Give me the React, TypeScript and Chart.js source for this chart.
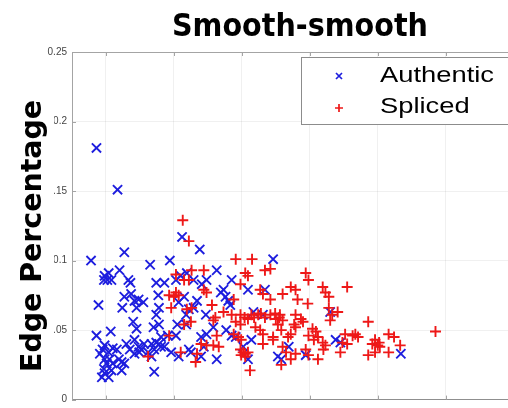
import React, { useEffect, useRef } from 'react';
import { Chart, registerables } from 'chart.js';

Chart.register(...registerables);

const chartTitle = 'Smooth-smooth';
const yAxisTitle = 'Edge Percentage';
const seriesNames = ['Authentic', 'Spliced'];
const yTickLabels = ['0', '0.05', '0.1', '0.15', '0.2', '0.25'];
const xTickValues = [0.5, 1.5, 2.5, 3.5, 4.5, 5.5, 6.5];

const authenticX = [
  0.36, 0.67, 0.28, 0.77, 1.15, 1.44, 0.48, 0.54, 0.47, 0.52, 0.58, 0.70, 0.83, 0.86, 1.24, 1.36,
  0.39, 0.74, 0.77, 0.87, 0.92, 0.98, 1.05, 0.95, 1.27, 1.28, 1.24, 0.90, 0.95, 1.20, 1.28,
  0.36, 0.57, 0.48, 0.45, 0.54, 0.60, 0.66, 0.41, 0.48, 0.55, 0.51, 0.60, 0.69, 0.73, 0.77,
  0.47, 0.48, 0.54, 0.44, 0.58, 0.73, 0.80, 0.85, 0.92, 0.98, 1.02, 1.06, 0.99, 0.92,
  1.17, 1.24, 1.28, 1.31, 1.21, 1.36, 1.12, 1.17, 1.21, 1.46, 1.31, 1.41,
  1.62, 1.88, 2.96, 2.13, 1.69, 1.60, 1.53, 1.79, 1.91, 1.98, 2.35, 2.23, 2.19, 2.26, 2.30, 2.33,
  2.59, 2.84, 1.65, 1.57, 1.84, 1.79, 1.72, 1.68, 1.97, 1.55, 1.68, 1.53, 2.08, 2.27, 2.35, 2.41,
  2.67, 2.81, 1.90, 1.98, 1.72, 1.75, 1.57, 1.90, 2.13, 1.94, 2.64, 2.52, 2.59, 3.03,
  3.88, 3.95, 3.44, 3.19, 3.08, 3.80, 4.84,
];
const authenticY = [
  0.181, 0.151, 0.100, 0.106, 0.097, 0.100, 0.089, 0.091, 0.086, 0.086, 0.086, 0.093, 0.086, 0.084, 0.084, 0.084,
  0.068, 0.066, 0.074, 0.076, 0.071, 0.072, 0.070, 0.066, 0.075, 0.066, 0.061, 0.056, 0.051, 0.052, 0.054,
  0.046, 0.049, 0.039, 0.036, 0.034, 0.037, 0.036, 0.033, 0.029, 0.029, 0.026, 0.026, 0.029, 0.027, 0.026,
  0.022, 0.019, 0.016, 0.016, 0.021, 0.021, 0.040, 0.036, 0.043, 0.038, 0.036, 0.040, 0.034, 0.033,
  0.040, 0.041, 0.040, 0.038, 0.036, 0.038, 0.034, 0.031, 0.020, 0.034, 0.045, 0.046,
  0.117, 0.108, 0.101, 0.093, 0.091, 0.089, 0.086, 0.086, 0.083, 0.086, 0.086, 0.079, 0.077, 0.074, 0.071, 0.068,
  0.079, 0.079, 0.074, 0.070, 0.071, 0.066, 0.065, 0.061, 0.061, 0.054, 0.054, 0.046, 0.052, 0.050, 0.046, 0.045,
  0.063, 0.061, 0.045, 0.047, 0.036, 0.034, 0.031, 0.031, 0.029, 0.038, 0.043, 0.038, 0.029, 0.031,
  0.043, 0.041, 0.032, 0.038, 0.029, 0.063, 0.033,
];

const splicedX = [
  1.63, 1.72, 2.41, 2.65, 2.55, 2.59, 2.84, 2.92, 1.53, 1.76, 1.94, 1.65, 1.72,
  1.43, 1.50, 1.57, 1.53, 1.94, 1.98, 2.48, 2.77, 2.81, 2.92, 2.38, 2.06, 1.46, 1.69, 1.76,
  2.23, 2.35, 2.11, 2.08, 2.48, 2.54, 2.59, 2.64, 2.68, 2.74, 2.78, 2.84, 2.92, 2.99, 3.00, 3.06,
  2.41, 2.48, 1.65, 1.75, 2.70, 2.77, 2.81, 2.96, 2.13, 2.38, 2.45, 2.49, 1.90, 1.98, 2.08,
  1.84, 2.48, 2.52, 2.55, 2.49, 2.55, 2.59, 2.81, 1.60, 1.82, 2.16, 2.62, 2.96, 1.43, 1.12,
  3.44, 3.48, 4.05, 3.22, 3.29, 3.69, 3.73, 3.78, 3.10, 3.32, 3.47, 3.78, 3.83, 3.91, 3.80,
  3.05, 3.10, 3.29, 3.37, 3.27, 3.40, 3.29, 4.36, 3.03, 3.08, 3.54, 3.59, 3.48, 3.62, 3.56,
  3.22, 3.18, 3.69, 3.73, 3.70, 4.02, 4.13, 4.21, 4.17, 3.98, 4.42, 4.46, 4.36, 4.46, 4.50,
  4.05, 3.95, 3.10, 3.15, 3.29, 3.22, 3.44, 3.48, 3.62, 3.08,
  5.35, 4.66, 4.74, 4.52, 4.53, 4.83, 4.66,
];
const splicedY = [
  0.129, 0.114, 0.101, 0.101, 0.091, 0.089, 0.093, 0.094, 0.090, 0.093, 0.093, 0.086, 0.086,
  0.075, 0.074, 0.075, 0.077, 0.079, 0.077, 0.083, 0.079, 0.076, 0.072, 0.072, 0.068, 0.066, 0.065, 0.066,
  0.063, 0.061, 0.059, 0.057, 0.061, 0.059, 0.058, 0.061, 0.059, 0.061, 0.062, 0.059, 0.061, 0.062, 0.058, 0.061,
  0.056, 0.054, 0.054, 0.056, 0.052, 0.050, 0.047, 0.045, 0.046, 0.047, 0.045, 0.043, 0.040, 0.039, 0.039,
  0.033, 0.036, 0.034, 0.033, 0.032, 0.031, 0.034, 0.040, 0.034, 0.027, 0.038, 0.021, 0.043, 0.046, 0.031,
  0.091, 0.086, 0.081, 0.081, 0.079, 0.081, 0.077, 0.074, 0.076, 0.072, 0.069, 0.066, 0.061, 0.063, 0.057,
  0.059, 0.057, 0.061, 0.058, 0.054, 0.056, 0.052, 0.056, 0.054, 0.050, 0.051, 0.049, 0.046, 0.045, 0.043,
  0.047, 0.045, 0.041, 0.039, 0.036, 0.047, 0.046, 0.045, 0.047, 0.041, 0.040, 0.034, 0.032, 0.043, 0.039,
  0.040, 0.034, 0.038, 0.034, 0.033, 0.029, 0.036, 0.032, 0.029, 0.025,
  0.049, 0.047, 0.045, 0.041, 0.038, 0.039, 0.034,
];

const BLUE = 'rgb(30, 30, 222)';
const RED = 'rgb(238, 24, 24)';

function toPoints(xs: number[], ys: number[]) {
  return xs.map((x, i) => ({ x, y: ys[i] }));
}

function drawFitted(
  ctx: CanvasRenderingContext2D,
  text: string,
  font: string,
  capPx: number,
  targetWidth: number,
  x: number,
  y: number,
  align: CanvasTextAlign,
  rotation = 0,
) {
  const size = capPx / 0.72;
  ctx.save();
  ctx.font = `${font.replace('SIZE', size.toFixed(2) + 'px')}`;
  const w = ctx.measureText(text).width;
  const sx = targetWidth / w;
  ctx.translate(x, y);
  ctx.rotate(rotation);
  ctx.scale(sx, 1);
  ctx.textAlign = align;
  ctx.textBaseline = 'alphabetic';
  ctx.fillStyle = '#000';
  ctx.fillText(text, 0, 0);
  ctx.restore();
}

const decorPlugin = {
  id: 'decor',
  afterDraw(chart: any) {
    const ctx: CanvasRenderingContext2D = chart.ctx;
    const a = chart.chartArea;
    const xs = chart.scales.x;
    const ys = chart.scales.y;
    ctx.save();
    // top frame line and inward ticks
    ctx.strokeStyle = '#a4a4a4';
    ctx.lineWidth = 1;
    ctx.beginPath();
    ctx.moveTo(a.left, Math.round(a.top) + 0.5);
    ctx.lineTo(a.right, Math.round(a.top) + 0.5);
    xs.ticks.forEach((t: any) => {
      const px = Math.round(xs.getPixelForValue(t.value)) + 0.5;
      ctx.moveTo(px, a.bottom);
      ctx.lineTo(px, a.bottom - 4);
      ctx.moveTo(px, a.top);
      ctx.lineTo(px, a.top + 4);
    });
    ys.ticks.forEach((t: any) => {
      const py = Math.round(ys.getPixelForValue(t.value)) + 0.5;
      ctx.moveTo(a.left, py);
      ctx.lineTo(a.left + 4, py);
    });
    ctx.stroke();

    // y axis title on a white box
    ctx.fillStyle = '#fff';
    ctx.fillRect(0, 90, 54, 292);
    drawFitted(ctx, yAxisTitle, 'bold SIZE "DejaVu Sans"', 21, 272, 41, 236, 'center', -Math.PI / 2);

    // chart title
    drawFitted(ctx, chartTitle, 'bold SIZE "DejaVu Sans"', 23, 256, 300, 36, 'center');

    // legend
    const bx = 301.5;
    const by = 57.5;
    ctx.fillStyle = '#fff';
    ctx.fillRect(bx, by, 400, 67);
    ctx.strokeStyle = '#8c8c8c';
    ctx.lineWidth = 1;
    ctx.strokeRect(bx, by, 400, 67);

    const mx = 339;
    ctx.lineWidth = 1.7;
    ctx.strokeStyle = BLUE;
    ctx.beginPath();
    ctx.moveTo(mx - 3, 76 - 3);
    ctx.lineTo(mx + 3, 76 + 3);
    ctx.moveTo(mx + 3, 76 - 3);
    ctx.lineTo(mx - 3, 76 + 3);
    ctx.stroke();
    ctx.strokeStyle = RED;
    ctx.beginPath();
    ctx.moveTo(mx - 4, 108);
    ctx.lineTo(mx + 4, 108);
    ctx.moveTo(mx, 104);
    ctx.lineTo(mx, 112);
    ctx.stroke();

    const legendFontSize = 16 / 0.72;
    ctx.font = `${legendFontSize.toFixed(2)}px "Liberation Sans"`;
    const sx = 114 / ctx.measureText(seriesNames[0]).width;
    [82, 113].forEach((baseY, i) => {
      ctx.save();
      ctx.translate(380, baseY);
      ctx.scale(sx, 1);
      ctx.fillStyle = '#000';
      ctx.textAlign = 'left';
      ctx.textBaseline = 'alphabetic';
      ctx.fillText(seriesNames[i], 0, 0);
      ctx.restore();
    });
    ctx.restore();
  },
};

export default function App() {
  const canvasRef = useRef<HTMLCanvasElement | null>(null);

  useEffect(() => {
    if (!canvasRef.current) return;
    const chart = new Chart(canvasRef.current, {
      type: 'scatter',
      data: {
        datasets: [
          {
            label: seriesNames[0],
            data: toPoints(authenticX, authenticY),
            pointStyle: 'crossRot',
            radius: 6.5,
            borderColor: BLUE,
            backgroundColor: BLUE,
            borderWidth: 1.9,
            order: 2,
          },
          {
            label: seriesNames[1],
            data: toPoints(splicedX, splicedY),
            pointStyle: 'cross',
            radius: 5.5,
            borderColor: RED,
            backgroundColor: RED,
            borderWidth: 1.9,
            order: 1,
          },
        ],
      },
      options: {
        animation: false,
        responsive: false,
        events: [],
        layout: { padding: { left: 0, top: 52, right: 4, bottom: 0 } },
        plugins: {
          legend: { display: false },
          tooltip: { enabled: false },
          title: { display: false },
        },
        scales: {
          x: {
            type: 'linear',
            min: 0,
            max: 7,
            afterBuildTicks: (s: any) => {
              s.ticks = xTickValues.map((v) => ({ value: v }));
            },
            afterFit: (s: any) => {
              s.height = 5;
              s.paddingLeft = 0;
              s.paddingRight = 0;
            },
            ticks: { display: false },
            grid: { color: 'rgba(0,0,0,0.06)', drawTicks: false },
            border: { display: true, color: '#8f8f8f' },
          },
          y: {
            type: 'linear',
            min: 0,
            max: 0.25,
            ticks: {
              stepSize: 0.05,
              padding: 5,
              color: '#444',
              font: { family: '"Liberation Sans"', size: 10 },
              callback: (_v: any, i: number) => yTickLabels[i],
            },
            afterFit: (s: any) => {
              s.width = 72;
              s.paddingTop = 0;
              s.paddingBottom = 0;
            },
            grid: { color: 'rgba(0,0,0,0.06)', drawTicks: false },
            border: { display: true, color: '#a4a4a4' },
          },
        },
      },
      plugins: [decorPlugin],
    });
    return () => chart.destroy();
  }, []);

  return (
    <div
      style={{
        position: 'absolute',
        left: 0,
        top: 0,
        width: 508,
        height: 408,
        overflow: 'hidden',
        background: '#fff',
      }}
    >
      <canvas ref={canvasRef} width={556} height={408} style={{ display: 'block' }} />
    </div>
  );
}
